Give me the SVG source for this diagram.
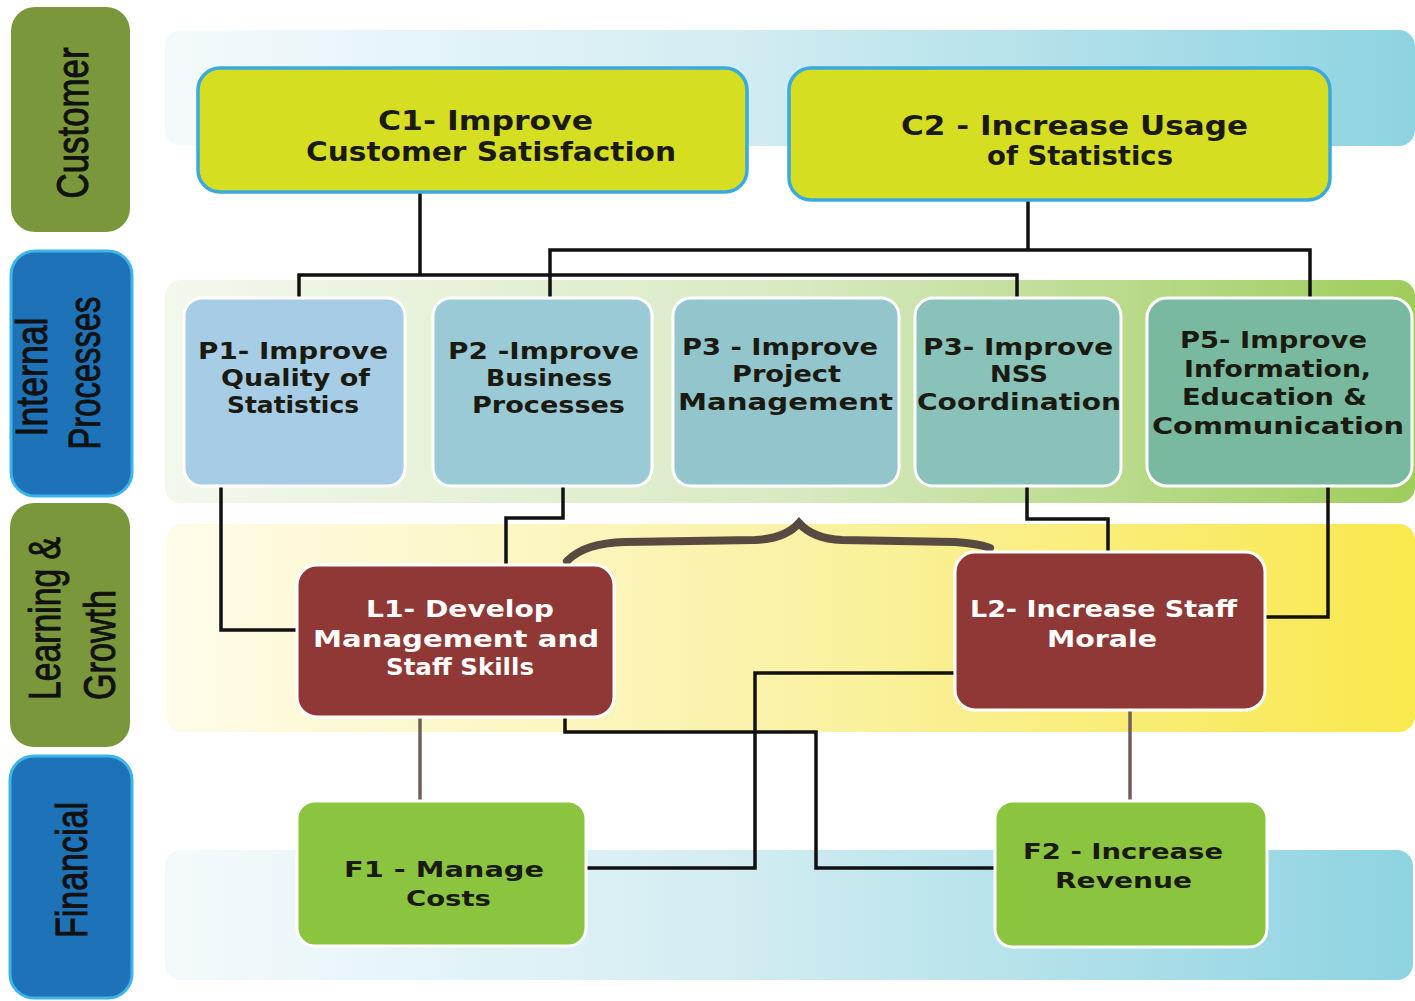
<svg xmlns="http://www.w3.org/2000/svg" width="1415" height="1001" viewBox="0 0 1415 1001">
<defs>
<linearGradient id="gBlue" x1="0" y1="0" x2="1" y2="0">
<stop offset="0" stop-color="#f4fafc"/>
<stop offset="0.45" stop-color="#d3edf2"/>
<stop offset="1" stop-color="#8ed3e1"/>
</linearGradient>
<linearGradient id="gGreen" x1="0" y1="0" x2="1" y2="0">
<stop offset="0" stop-color="#f3f8ed"/>
<stop offset="0.5" stop-color="#d8eac2"/>
<stop offset="1" stop-color="#9ecd5b"/>
</linearGradient>
<linearGradient id="gYellow" x1="0" y1="0" x2="1" y2="0">
<stop offset="0" stop-color="#fefce9"/>
<stop offset="0.5" stop-color="#faf2a6"/>
<stop offset="1" stop-color="#f9e84d"/>
</linearGradient>
<style>
.lbl{font-family:"Liberation Sans","DejaVu Sans",sans-serif;font-size:44px;fill:#111;stroke:#111;stroke-width:1;}
.t{font-family:"DejaVu Sans","Liberation Sans",sans-serif;font-weight:bold;fill:#1a1a10;text-anchor:middle;}
.tc{font-size:26px;}
.tp{font-size:23px;}
.tl{font-size:23px;fill:#fff;}
.tf{font-size:22px;}
.cbox{fill:#d5de21;stroke:#3aa9e0;stroke-width:3.5;}
.wb{stroke:#fff;stroke-width:3;}
.ln{fill:none;stroke:#111;stroke-width:3.5;stroke-linejoin:miter;}
.gl{fill:none;stroke:#6e5f5a;stroke-width:3.5;}
</style>
</defs>

<!-- bands -->
<g id="bands">
<rect x="165" y="30" width="1250" height="116" rx="16" fill="url(#gBlue)"/>
<rect x="165" y="280" width="1250" height="223" rx="16" fill="url(#gGreen)"/>
<rect x="166" y="524" width="1249" height="208" rx="16" fill="url(#gYellow)"/>
<rect x="165" y="850" width="1248" height="130" rx="16" fill="url(#gBlue)"/>
</g>

<!-- perspective labels -->
<g id="label-customer">
<rect x="11" y="7" width="119" height="225" rx="24" fill="#7a983b"/>
<text class="lbl" text-anchor="middle" textLength="151" lengthAdjust="spacingAndGlyphs" transform="translate(88,123) rotate(-90)">Customer</text>
</g>
<g id="label-internal">
<rect x="11" y="251" width="121" height="245" rx="24" fill="#1e72b8" stroke="#3db4ea" stroke-width="3"/>
<text class="lbl" text-anchor="middle" textLength="119" lengthAdjust="spacingAndGlyphs" transform="translate(47,377) rotate(-90)">Internal</text>
<text class="lbl" text-anchor="middle" textLength="153" lengthAdjust="spacingAndGlyphs" transform="translate(100,373) rotate(-90)">Processes</text>
</g>
<g id="label-learning">
<rect x="10" y="503" width="120" height="244" rx="24" fill="#7a983b"/>
<text class="lbl" text-anchor="start" textLength="163" lengthAdjust="spacingAndGlyphs" transform="translate(60,700) rotate(-90)">Learning &amp;</text>
<text class="lbl" text-anchor="start" textLength="110" lengthAdjust="spacingAndGlyphs" transform="translate(115,700) rotate(-90)">Growth</text>
</g>
<g id="label-financial">
<rect x="10" y="756" width="122" height="242" rx="24" fill="#1e72b8" stroke="#3db4ea" stroke-width="3"/>
<text class="lbl" text-anchor="middle" textLength="136" lengthAdjust="spacingAndGlyphs" transform="translate(87,870) rotate(-90)">Financial</text>
</g>

<!-- connectors -->
<g id="connectors">
<polyline class="ln" points="420,192 420,275"/>
<polyline class="ln" points="299,298 299,275 1017,275 1017,298"/>
<polyline class="ln" points="1028,200 1028,250"/>
<polyline class="ln" points="550,298 550,250 1310,250 1310,298"/>
<polyline class="ln" points="221,486 221,630 297,630"/>
<polyline class="ln" points="563,486 563,518 506,518 506,565"/>
<polyline class="ln" points="1027,487 1027,519 1108,519 1108,552"/>
<polyline class="ln" points="1328,487 1328,617 1265,617"/>
<polyline class="ln" points="565,716 565,732 816,732 816,868 995,868"/>
<polyline class="ln" points="955,673 755,673 755,868 587,868"/>
<line class="gl" x1="420" y1="717" x2="420" y2="801"/>
<line class="gl" x1="1130" y1="710" x2="1130" y2="801"/>
<path d="M567,561 C580,548 598,543 625,542 L755,540 C780,539 792,531 799,523 C806,531 818,539 842,540 L955,542 C970,543 982,545 990,548" fill="none" stroke="#594a41" stroke-width="8" stroke-linecap="round"/>
</g>

<!-- customer -->
<g id="C1">
<rect class="cbox" x="198" y="68" width="549" height="124" rx="22"/>
<text class="t tc" x="485.5" y="130" textLength="215" lengthAdjust="spacingAndGlyphs">C1- Improve</text>
<text class="t tc" x="491" y="161" textLength="370" lengthAdjust="spacingAndGlyphs">Customer Satisfaction</text>
</g>
<g id="C2">
<rect class="cbox" x="789" y="68" width="541" height="132" rx="22"/>
<text class="t tc" x="1074.5" y="135" textLength="347" lengthAdjust="spacingAndGlyphs">C2 - Increase Usage</text>
<text class="t tc" x="1080" y="165" textLength="186" lengthAdjust="spacingAndGlyphs">of Statistics</text>
</g>

<!-- internal processes -->
<g id="P1">
<rect class="wb" x="184" y="298" width="221" height="188" rx="18" fill="#a6cde5"/>
<text class="t tp" x="293" y="359" textLength="190" lengthAdjust="spacingAndGlyphs">P1- Improve</text>
<text class="t tp" x="295.5" y="386" textLength="149" lengthAdjust="spacingAndGlyphs">Quality of</text>
<text class="t tp" x="293" y="413" textLength="132" lengthAdjust="spacingAndGlyphs">Statistics</text>
</g>
<g id="P2">
<rect class="wb" x="433" y="298" width="219" height="188" rx="18" fill="#9bcad7"/>
<text class="t tp" x="543.5" y="359" textLength="191" lengthAdjust="spacingAndGlyphs">P2 -Improve</text>
<text class="t tp" x="549" y="386" textLength="126" lengthAdjust="spacingAndGlyphs">Business</text>
<text class="t tp" x="548.5" y="413" textLength="153" lengthAdjust="spacingAndGlyphs">Processes</text>
</g>
<g id="P3">
<rect class="wb" x="673" y="298" width="226" height="188" rx="18" fill="#92c5cc"/>
<text class="t tp" x="780" y="355" textLength="196" lengthAdjust="spacingAndGlyphs">P3 - Improve</text>
<text class="t tp" x="786.5" y="382" textLength="109" lengthAdjust="spacingAndGlyphs">Project</text>
<text class="t tp" x="785.5" y="410" textLength="215" lengthAdjust="spacingAndGlyphs">Management</text>
</g>
<g id="P3-NSS">
<rect class="wb" x="915" y="298" width="206" height="188" rx="18" fill="#88c2b9"/>
<text class="t tp" x="1018" y="355" textLength="190" lengthAdjust="spacingAndGlyphs">P3- Improve</text>
<text class="t tp" x="1019" y="382" textLength="58" lengthAdjust="spacingAndGlyphs">NSS</text>
<text class="t tp" x="1019" y="410" textLength="204" lengthAdjust="spacingAndGlyphs">Coordination</text>
</g>
<g id="P5">
<rect class="wb" x="1147" y="298" width="265" height="188" rx="20" fill="#79b99f"/>
<text class="t tp" x="1273.5" y="348" textLength="187" lengthAdjust="spacingAndGlyphs">P5- Improve</text>
<text class="t tp" x="1277.5" y="377" textLength="187" lengthAdjust="spacingAndGlyphs">Information,</text>
<text class="t tp" x="1274.5" y="405" textLength="185" lengthAdjust="spacingAndGlyphs">Education &amp;</text>
<text class="t tp" x="1278" y="434" textLength="252" lengthAdjust="spacingAndGlyphs">Communication</text>
</g>

<!-- learning & growth -->
<g id="L1">
<rect class="wb" x="297" y="565" width="317" height="152" rx="20" fill="#8f3836"/>
<text class="t tl" x="460" y="617" textLength="188" lengthAdjust="spacingAndGlyphs">L1- Develop</text>
<text class="t tl" x="456" y="647" textLength="286" lengthAdjust="spacingAndGlyphs">Management and</text>
<text class="t tl" x="460" y="675" textLength="148" lengthAdjust="spacingAndGlyphs">Staff Skills</text>
</g>
<g id="L2">
<rect class="wb" x="955" y="552" width="310" height="158" rx="20" fill="#8f3836"/>
<text class="t tl" x="1103.5" y="617" textLength="267" lengthAdjust="spacingAndGlyphs">L2- Increase Staff</text>
<text class="t tl" x="1102" y="647" textLength="110" lengthAdjust="spacingAndGlyphs">Morale</text>
</g>

<!-- financial -->
<g id="F1">
<rect class="wb" x="297" y="801" width="289" height="145" rx="18" fill="#8bc43e"/>
<text class="t tf" x="444" y="877" textLength="200" lengthAdjust="spacingAndGlyphs">F1 - Manage</text>
<text class="t tf" x="448.5" y="906" textLength="85" lengthAdjust="spacingAndGlyphs">Costs</text>
</g>
<g id="F2">
<rect class="wb" x="995" y="801" width="272" height="146" rx="18" fill="#8bc43e"/>
<text class="t tf" x="1123" y="859" textLength="200" lengthAdjust="spacingAndGlyphs">F2 - Increase</text>
<text class="t tf" x="1123.5" y="888" textLength="137" lengthAdjust="spacingAndGlyphs">Revenue</text>
</g>
</svg>
